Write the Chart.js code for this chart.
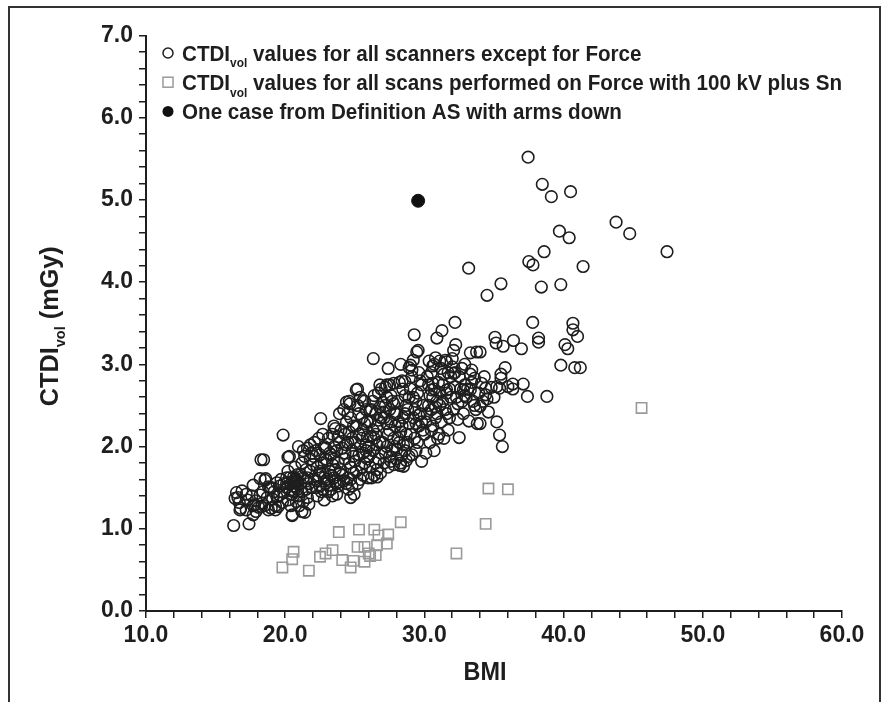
<!DOCTYPE html>
<html>
<head>
<meta charset="utf-8">
<script src="https://cdn.jsdelivr.net/npm/chart.js@4.4.1/dist/chart.umd.min.js"></script>
<style>
  html, body { margin: 0; padding: 0; background: #fff; }
  #wrap { position: relative; width: 888px; height: 702px; }
</style>
</head>
<body>
<div id="wrap"><canvas id="chart" width="888" height="702"></canvas></div>
<script>
// BMI vs CTDIvol
const otherScanners = [
  [16.3,1.04],[16.5,1.44],[16.6,1.38],[16.8,1.25],[16.9,1.46],[16.7,1.32],[16.4,1.37],[16.75,1.23],
  [17.4,1.06],[17.3,1.35],[17.7,1.28],[17.9,1.21],[17.7,1.53],[17.2,1.42],[17.6,1.40],[17.9,1.34],[17.2,1.23],[17.7,1.17],[17.8,1.29],
  [18.2,1.61],[18.26,1.84],[18.45,1.84],[18.35,1.31],[18.8,1.23],[18.6,1.61],[18.1,1.26],[18.4,1.45],[18.7,1.38],[18.9,1.50],[18.5,1.28],[18.2,1.41],[18.55,1.59],[18.8,1.51],[18.3,1.27],
  [19.0,1.50],[19.4,1.39],[19.3,1.28],[19.85,2.14],[19.2,1.45],[19.6,1.52],[19.5,1.27],[19.9,1.44],[19.7,1.60],[19.1,1.36],[19.8,1.32],[19.6,1.41],[19.4,1.56],[19.9,1.55],[19.0,1.25],[19.3,1.23],
  [20.1,1.50],[20.3,1.88],[20.5,1.16],[20.75,1.61],[20.95,2.00],[20.2,1.35],[20.4,1.55],[20.6,1.52],[20.8,1.57],[20.9,1.48],[20.7,1.60],[20.6,1.45],[20.3,1.62],[20.9,1.58],
  [20.2,1.70],[20.5,1.42],[20.8,1.33],[20.4,1.28],[20.7,1.75],[20.1,1.62],[20.9,1.66],[20.6,1.57],[20.8,1.51],[20.35,1.47],[20.2,1.87],[20.6,1.63],[20.1,1.55],[20.7,1.59],[20.5,1.17],
  [21.4,1.20],[21.1,1.55],[21.3,1.62],[21.5,1.48],[21.2,1.80],[21.7,1.55],[21.8,1.70],[21.0,1.28],[21.6,1.38],[21.9,1.92],[21.3,1.33],[21.5,1.72],[21.2,1.45],[21.8,1.85],
  [21.6,1.98],[21.1,1.66],[21.9,1.50],[21.4,1.88],[21.7,1.30],[21.0,1.40],[21.5,1.58],[21.8,2.02],[21.3,1.95],[21.6,1.62],[21.2,1.21],
  [22.8,1.35],[22.55,2.34],[22.1,1.60],[22.3,1.75],[22.5,1.52],[22.7,1.68],[22.9,1.85],[22.2,1.95],[22.4,2.10],[22.6,1.45],[22.8,1.62],[22.0,1.78],[22.3,1.40],
  [22.5,1.90],[22.7,2.15],[22.9,1.55],[22.1,2.05],[22.4,1.65],[22.6,1.80],[22.8,2.00],[22.2,1.50],[22.5,1.70],[22.9,1.98],[22.7,1.48],[22.3,1.58],[22.05,1.88],
  [23.5,2.25],[23.1,1.45],[23.3,1.65],[23.5,1.85],[23.7,1.55],[23.9,2.05],[23.2,1.92],[23.4,2.15],[23.6,1.72],[23.8,1.80],[23.0,1.60],[23.3,1.48],[23.5,1.62],[23.7,1.95],
  [23.9,2.40],[23.1,2.10],[23.4,1.78],[23.6,2.22],[23.8,1.52],[23.2,1.70],[23.5,2.00],[23.7,1.42],[23.9,1.68],[23.3,1.90],[23.6,1.58],[23.8,2.12],[23.0,1.83],[23.4,1.40],[23.2,1.53],[23.9,1.57],
  [24.95,1.42],[24.7,1.38],[24.1,1.65],[24.3,1.85],[24.5,2.05],[24.7,1.75],[24.9,2.25],[24.2,2.45],[24.4,1.55],[24.6,2.55],[24.8,1.95],[24.0,1.72],[24.3,2.15],[24.5,1.62],[24.7,2.35],
  [24.9,1.88],[24.1,1.98],[24.4,2.30],[24.6,1.80],[24.8,2.10],[24.2,1.58],[24.5,2.40],[24.9,1.68],[24.3,1.92],[24.6,2.18],[24.8,1.52],[24.0,2.20],[24.4,2.02],[24.7,1.60],[24.55,1.48],[24.4,2.54],[24.65,2.52],
  [25.2,2.70],[25.1,1.70],[25.3,1.90],[25.5,2.10],[25.7,1.80],[25.9,2.30],[25.2,2.50],[25.4,1.60],[25.6,2.20],[25.8,1.95],[25.0,2.05],[25.3,2.40],[25.5,1.75],[25.7,2.55],[25.9,1.85],
  [25.1,2.25],[25.4,2.00],[25.6,1.65],[25.8,2.45],[25.2,1.55],[25.5,2.35],[25.9,2.12],[25.3,2.15],[25.6,1.92],[25.8,2.02],[25.0,1.82],[25.4,2.60],[25.7,2.28],[25.95,1.62],[25.6,2.56],[25.1,2.69],
  [26.33,3.07],[26.1,1.75],[26.3,1.95],[26.5,2.15],[26.7,1.85],[26.9,2.35],[26.2,2.45],[26.4,1.65],[26.6,2.25],[26.8,2.05],[26.0,2.00],[26.3,2.55],[26.5,1.80],[26.7,2.65],[26.9,1.92],
  [26.1,2.30],[26.4,2.10],[26.6,1.72],[26.8,2.48],[26.2,1.62],[26.5,2.40],[26.9,2.70],[26.3,2.20],[26.6,2.02],[26.8,2.75],[26.0,1.88],[26.4,2.62],[26.7,2.32],[26.85,1.68],[26.15,2.12],[26.6,1.63],[26.1,2.44],
  [27.4,2.95],[27.2,2.72],[27.3,2.75],[27.1,1.80],[27.3,2.00],[27.5,2.20],[27.7,1.95],[27.9,2.40],[27.2,2.50],[27.4,1.75],[27.6,2.30],[27.8,2.10],[27.0,2.05],[27.3,2.60],
  [27.5,1.88],[27.7,2.55],[27.9,2.00],[27.1,2.35],[27.4,2.15],[27.6,1.82],[27.8,2.52],[27.2,1.92],[27.5,2.45],[27.9,2.25],[27.3,2.28],[27.6,2.62],[27.8,1.78],[27.05,2.42],[27.5,2.75],[27.8,2.77],[27.0,2.54],
  [28.3,3.00],[28.2,2.78],[28.4,2.80],[28.0,1.85],[28.2,2.05],[28.4,2.25],[28.6,1.95],[28.8,2.45],[28.1,2.55],[28.3,1.80],[28.5,2.35],[28.7,2.15],[28.9,2.60],[28.2,2.30],
  [28.4,1.90],[28.6,2.62],[28.8,2.05],[28.0,2.40],[28.3,2.18],[28.5,1.76],[28.7,2.50],[28.9,2.28],[28.1,2.10],[28.6,2.40],[28.9,1.88],[28.45,2.70],[28.25,1.77],[28.7,1.83],[28.0,1.96],[28.5,2.02],[28.6,2.79],
  [29.27,3.36],[29.55,3.17],[29.2,3.05],[28.9,2.96],[29.1,2.93],[29.0,2.15],[29.2,2.35],[29.4,2.55],[29.6,2.25],[29.8,2.75],[29.1,2.85],[29.3,2.10],[29.5,2.65],[29.7,2.40],
  [29.9,2.20],[29.2,2.60],[29.4,1.95],[29.6,2.90],[29.8,2.30],[29.0,2.70],[29.3,2.45],[29.5,2.05],[29.7,2.80],[29.9,2.50],[29.1,1.90],[29.4,2.28],[29.8,1.82],[29.6,2.38],[29.45,3.15],[29.0,2.99],
  [30.34,3.04],[30.7,3.00],[30.6,2.98],[30.9,3.32],[30.8,3.08],[30.1,2.30],[30.3,2.50],[30.5,2.20],[30.7,2.70],[30.9,2.40],[30.2,2.85],[30.4,2.05],[30.6,2.60],[30.8,2.35],
  [30.0,2.15],[30.3,2.75],[30.5,2.45],[30.7,1.95],[30.9,2.55],[30.2,2.40],[30.4,2.62],[30.6,2.25],[30.8,2.48],[30.1,1.92],[30.5,2.90],[30.95,2.10],[30.6,2.77],[30.5,2.69],
  [31.26,3.41],[31.1,2.50],[31.3,2.75],[31.5,2.45],[31.7,2.90],[31.9,2.60],[31.2,2.30],[31.4,2.10],[31.6,2.65],[31.8,2.35],[31.0,2.78],[31.3,2.55],[31.5,3.05],[31.7,2.20],
  [31.9,2.85],[31.2,2.95],[31.6,2.40],[31.8,2.70],[31.4,2.88],[31.05,2.15],[31.1,3.04],[31.6,3.03],[31.1,2.66],[31.6,2.69],
  [32.2,3.51],[32.25,3.24],[32.1,3.17],[32.0,3.07],[32.9,3.00],[32.5,2.11],[32.4,2.33],[32.3,2.60],[32.5,2.85],[32.7,2.55],[32.9,2.75],[32.1,2.45],[32.6,2.70],[32.8,2.40],
  [32.2,2.90],[32.4,2.52],[32.7,2.95],[32.9,2.62],[32.0,2.97],[32.1,2.89],[32.2,2.73],[32.8,2.69],
  [33.18,4.17],[33.3,3.14],[33.2,2.31],[33.3,2.88],[33.1,2.70],[33.5,2.55],[33.7,2.45],[33.9,2.65],[33.4,2.78],[33.6,2.50],[33.8,2.28],[33.0,2.60],[34.0,3.15],[34.0,2.49],
  [34.0,2.28],[33.75,3.15],[33.3,2.69],[33.6,2.83],[33.4,2.93],
  [34.3,2.85],[34.1,2.77],[34.4,2.63],[34.5,2.58],[34.5,3.84],[35.07,3.33],[35.15,3.26],[35.5,3.98],[35.66,3.22],[35.8,2.96],[35.5,2.88],[35.5,2.83],[35.2,2.73],[35.4,2.71],
  [35.2,2.30],[35.4,2.14],[35.6,2.00],[34.2,2.55],[34.6,2.42],[35.0,2.60],[34.8,2.72],[34.4,2.71],[36.0,2.73],
  [36.4,3.29],[36.35,2.76],[36.35,2.70],[36.97,3.19],[37.1,2.76],[37.4,2.61],[37.45,5.52],[37.5,4.25],[37.8,4.21],[37.78,3.51],[38.2,3.32],[38.2,3.27],[38.4,3.94],[38.47,5.19],
  [38.6,4.37],[38.8,2.61],[39.12,5.04],[39.7,4.62],[39.8,3.97],[39.8,2.99],[40.1,3.24],[40.3,3.19],[40.4,4.54],[40.5,5.10],[40.67,3.50],[40.67,3.42],[40.8,2.96],[41.0,3.34],
  [41.2,2.96],[41.4,4.19],[43.77,4.73],[44.75,4.59],[47.43,4.37]
];

const forceScans = [
  [19.8,0.53],[20.6,0.72],[20.5,0.63],[21.7,0.49],[22.5,0.66],[22.9,0.70],[23.4,0.74],[23.85,0.96],[24.1,0.62],[24.7,0.53],
  [24.9,0.61],[25.3,0.99],[25.2,0.78],[25.7,0.78],[25.7,0.60],[26.0,0.70],[26.1,0.67],[26.5,0.68],[26.4,0.99],[26.7,0.92],
  [26.6,0.80],[27.4,0.93],[27.3,0.82],[28.3,1.08],[32.3,0.70],[34.4,1.06],[34.6,1.49],[36.0,1.48],[45.6,2.47]
];

const armsDown = [[29.55,4.99]];

const xMajor = [10, 20, 30, 40, 50, 60];
const yMajor = [0, 1, 2, 3, 4, 5, 6, 7];

const legendRows = [
  { marker: 'circle', parts: [['CTDI', 0], ['vol', 1], [' values for all scanners except for Force', 0]] },
  { marker: 'square', parts: [['CTDI', 0], ['vol', 1], [' values for all scans performed on Force with 100 kV plus Sn', 0]] },
  { marker: 'dot', parts: [['One case from Definition AS with arms down', 0]] }
];

const FONT = '"Liberation Sans", Arial, Helvetica, sans-serif';
const INK = '#1e1e1e';

const toPts = arr => arr.map(([x, y]) => ({ x, y }));

// draw text made of pieces, some of them subscript
function richText(c, parts, x, y, size, subSize) {
  let cx = x;
  parts.forEach(([t, sub]) => {
    c.font = 'bold ' + (sub ? subSize : size) + 'px ' + FONT;
    c.fillText(t, cx, sub ? y + size * 0.28 : y);
    cx += c.measureText(t).width;
  });
  return cx - x;
}
function richWidth(c, parts, size, subSize) {
  let w = 0;
  parts.forEach(([t, sub]) => {
    c.font = 'bold ' + (sub ? subSize : size) + 'px ' + FONT;
    w += c.measureText(t).width;
  });
  return w;
}

const extras = {
  id: 'extras',
  afterDraw(chart) {
    const c = chart.ctx;
    const a = chart.chartArea;
    c.save();

    // outer frame (no bottom edge)
    c.strokeStyle = '#333';
    c.lineWidth = 2;
    c.beginPath();
    c.moveTo(9, 702); c.lineTo(9, 7); c.lineTo(880, 7); c.lineTo(880, 702);
    c.stroke();

    // legend - the type in the figure is a condensed bold, so squeeze it a bit
    const lSize = 22.5, lSub = 13;
    const squeeze = 660 / richWidth(c, legendRows[1].parts, lSize, lSub);
    c.textBaseline = 'alphabetic';
    c.textAlign = 'left';
    legendRows.forEach((row, i) => {
      const cy = 53 + i * 29.2;
      const mx = 168;
      c.lineWidth = 1.5;
      if (row.marker === 'circle') {
        c.strokeStyle = INK;
        c.beginPath(); c.arc(mx, cy, 5, 0, Math.PI * 2); c.stroke();
      } else if (row.marker === 'square') {
        c.strokeStyle = '#9a9a9a';
        c.strokeRect(mx - 5, cy - 5, 10, 10);
      } else {
        c.fillStyle = '#111';
        c.beginPath(); c.arc(mx, cy, 5.5, 0, Math.PI * 2); c.fill();
      }
      c.fillStyle = INK;
      c.setTransform(squeeze, 0, 0, 1, 182, cy + 8);
      richText(c, row.parts, 0, 0, lSize, lSub);
      c.setTransform(1, 0, 0, 1, 0, 0);
    });

    // y title, rotated, with subscript
    const yParts = [['CTDI', 0], ['vol', 1], [' (mGy)', 0]];
    const ySize = 26, ySub = 15;
    const yw = richWidth(c, yParts, ySize, ySub);
    const ySq = 160 / yw;
    c.setTransform(0, -1, 1, 0, 58, (a.top + a.bottom) / 2 + 3);
    c.scale(ySq, 1);
    richText(c, yParts, -yw / 2, 0, ySize, ySub);
    c.setTransform(1, 0, 0, 1, 0, 0);

    // x title
    c.font = 'bold 26px ' + FONT;
    c.textAlign = 'center';
    c.setTransform(0.9, 0, 0, 1, (a.left + a.right) / 2 - 9, 680);
    c.fillText('BMI', 0, 0);
    c.setTransform(1, 0, 0, 1, 0, 0);

    c.restore();
  }
};

const tickFont = { family: FONT, size: 23, weight: 'bold' };

new Chart(document.getElementById('chart').getContext('2d'), {
  type: 'scatter',
  data: {
    datasets: [
      {
        label: 'Force 100 kV plus Sn',
        data: toPts(forceScans),
        pointStyle: 'rect',
        pointRadius: 7.3,
        borderColor: '#9a9a9a',
        borderWidth: 1.6,
        backgroundColor: 'rgba(0,0,0,0)'
      },
      {
        label: 'All scanners except Force',
        data: toPts(otherScanners),
        pointStyle: 'circle',
        pointRadius: 5.8,
        borderColor: INK,
        borderWidth: 1.6,
        backgroundColor: 'rgba(0,0,0,0)'
      },
      {
        label: 'Definition AS, arms down',
        data: toPts(armsDown),
        pointStyle: 'circle',
        pointRadius: 6.5,
        borderColor: '#111',
        borderWidth: 1,
        backgroundColor: '#111'
      }
    ]
  },
  options: {
    responsive: false,
    animation: false,
    devicePixelRatio: 1,
    layout: { padding: { left: 0, right: 46, top: 35.5, bottom: 0 } },
    plugins: { legend: { display: false }, tooltip: { enabled: false } },
    scales: {
      x: {
        type: 'linear',
        min: 10,
        max: 60,
        afterFit(s) { s.height = 91; },
        ticks: {
          stepSize: 2,
          autoSkip: false,
          maxRotation: 0,
          padding: 4,
          color: INK,
          font: tickFont,
          callback: v => xMajor.includes(v) ? v.toFixed(1) : ''
        },
        grid: { drawOnChartArea: false, drawTicks: true, tickLength: 7, color: INK, lineWidth: 1.5 },
        border: { display: true, color: INK, width: 2 }
      },
      y: {
        type: 'linear',
        min: 0,
        max: 7,
        afterFit(s) { s.width = 146; },
        ticks: {
          stepSize: 0.2,
          autoSkip: false,
          padding: 6,
          color: INK,
          font: tickFont,
          callback: v => yMajor.some(m => Math.abs(m - v) < 1e-6) ? v.toFixed(1) : ''
        },
        grid: { drawOnChartArea: false, drawTicks: true, tickLength: 7, color: INK, lineWidth: 1.5 },
        border: { display: true, color: INK, width: 2 }
      }
    }
  },
  plugins: [extras]
});
</script>
</body>
</html>
